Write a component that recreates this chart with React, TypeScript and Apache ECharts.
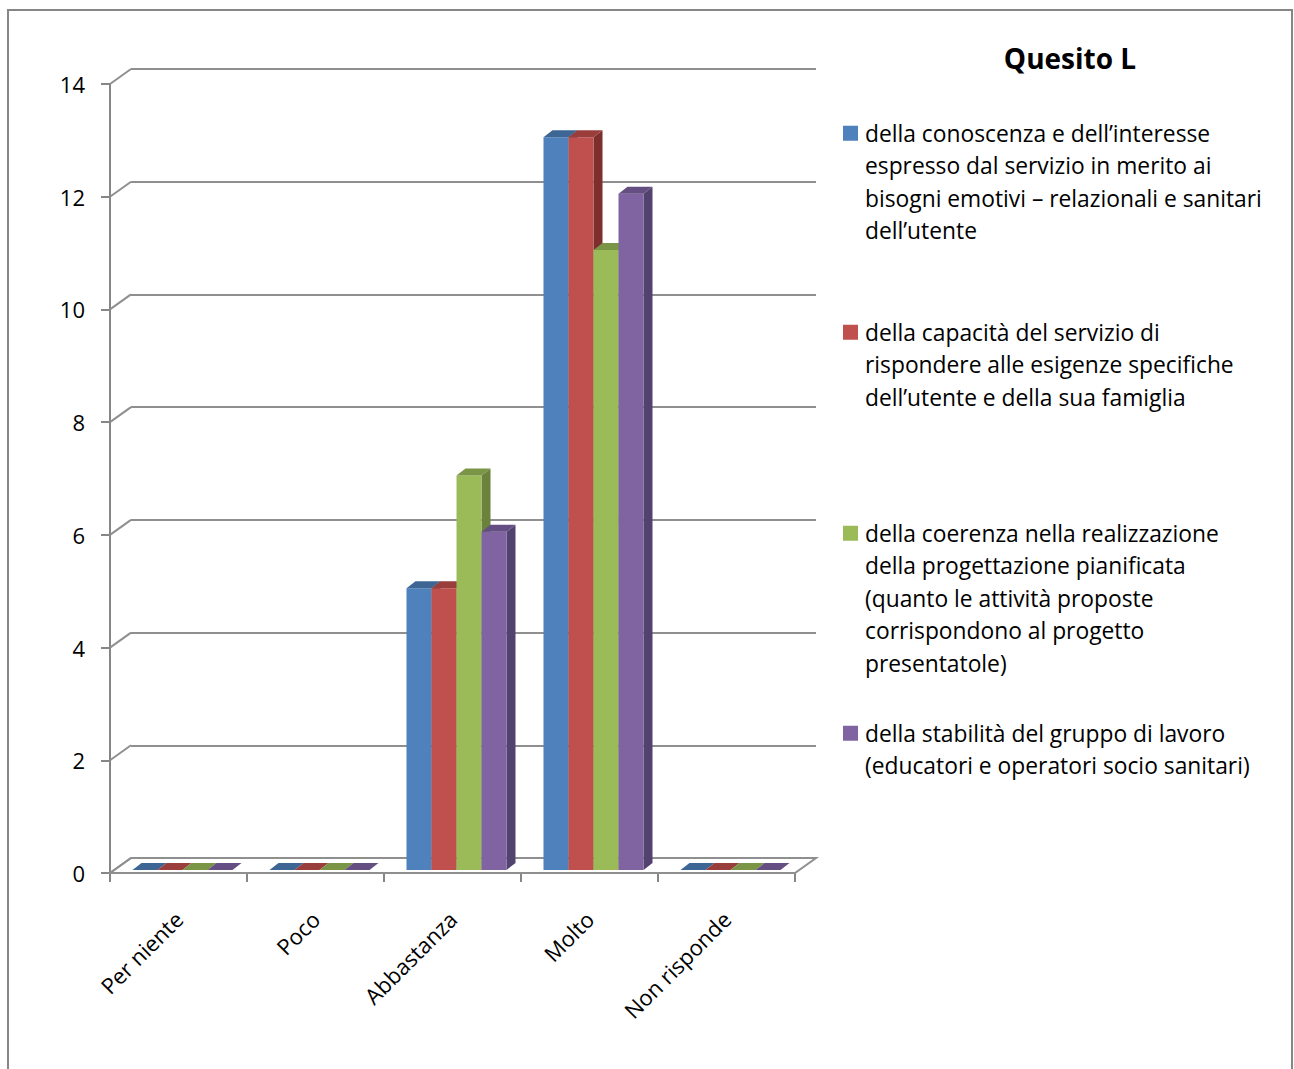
import { useEffect, useRef } from "react";
import * as echarts from "echarts";

// Risposte al quesito L
const categories = ["Per niente", "Poco", "Abbastanza", "Molto", "Non risponde"];

const seriesNames = [
  "della conoscenza e dell’interesse\nespresso dal servizio in merito ai\nbisogni emotivi – relazionali e sanitari\ndell’utente",
  "della capacità del servizio di\nrispondere alle esigenze specifiche\ndell’utente e della sua famiglia",
  "della coerenza nella realizzazione\ndella progettazione pianificata\n(quanto le attività proposte\ncorrispondono al progetto\npresentatole)",
  "della stabilità del gruppo di lavoro\n(educatori e operatori socio sanitari)",
];

const conoscenza = [0, 0, 5, 13, 0];
const capacita = [0, 0, 5, 13, 0];
const coerenza = [0, 0, 7, 11, 0];
const stabilita = [0, 0, 6, 12, 0];

const yTicks = [0, 2, 4, 6, 8, 10, 12, 14];

const seriesValues = [conoscenza, capacita, coerenza, stabilita];

// front / top / side shades of each column
const palette = [
  { front: "#4F81BD", top: "#3D6695", side: "#36597F" },
  { front: "#C0504D", top: "#9A3E3C", side: "#7D2F2D" },
  { front: "#9BBB59", top: "#7A9546", side: "#6A823C" },
  { front: "#8064A2", top: "#654F82", side: "#524270" },
];

const FONT = "'Open Sans', 'Noto Sans', sans-serif";
const AXIS_GRAY = "#868686";
const GRID_GRAY = "#8f8f8f";

// perspective of the chart box and of each column
const DEPTH_X = 21;
const DEPTH_Y = -15;
const BAR_SHIFT_X = 4;
const BAR_SHIFT_Y = -3;
const BAR_DX = 9;
const BAR_DY = -7;
const GROUP_RATIO = 0.73;

const LINE_H = 32.5;
const legendFirstLine = [133, 332, 533, 733];

function barSeries(k: number) {
  const col = palette[k];
  return {
    type: "custom",
    name: seriesNames[k],
    xAxisIndex: 0,
    yAxisIndex: 0,
    z: 4,
    itemStyle: { color: col.front },
    encode: { x: 0, y: 1 },
    data: seriesValues[k].map((v, i) => [i, v]),
    renderItem: (_params: any, api: any) => {
      const i = api.value(0);
      const v = api.value(1);
      const top = api.coord([i, v]);
      const base = api.coord([i, 0]);
      const band = api.size([1, 0])[0];
      const bw = (band * GROUP_RATIO) / 4;
      const x0 = top[0] + BAR_SHIFT_X + (k - 2) * bw;
      const yT = top[1] + BAR_SHIFT_Y;
      const yB = base[1] + BAR_SHIFT_Y;
      return {
        type: "group",
        children: [
          {
            type: "polygon",
            shape: {
              points: [
                [x0 + bw, yT],
                [x0 + bw + BAR_DX, yT + BAR_DY],
                [x0 + bw + BAR_DX, yB + BAR_DY],
                [x0 + bw, yB],
              ],
            },
            style: { fill: col.side },
          },
          {
            type: "rect",
            shape: { x: x0, y: yT, width: bw, height: yB - yT },
            style: { fill: col.front },
          },
          {
            type: "polygon",
            shape: {
              points: [
                [x0, yT],
                [x0 + bw, yT],
                [x0 + bw + BAR_DX, yT + BAR_DY],
                [x0 + BAR_DX, yT + BAR_DY],
              ],
            },
            style: { fill: col.top },
          },
        ],
      };
    },
  };
}

function legendFor(k: number) {
  const lines = seriesNames[k].split("\n").length;
  const h = lines * LINE_H;
  return {
    show: true,
    left: 843,
    top: legendFirstLine[k] - LINE_H / 2,
    padding: 0,
    orient: "vertical",
    itemWidth: 17,
    itemHeight: h,
    selectedMode: false,
    icon: `path://M0,9h15v15h-15z M0,0 M17,${h}`,
    itemStyle: { borderWidth: 0 },
    textStyle: {
      fontFamily: FONT,
      fontSize: 22.8,
      lineHeight: LINE_H,
      color: "#000",
    },
    data: [seriesNames[k]],
  };
}

export default function App() {
  const ref = useRef<HTMLDivElement>(null);

  useEffect(() => {
    if (!ref.current) return;
    const chart = echarts.init(ref.current, null, { renderer: "svg" });

    const option: any = {
      animation: false,
      backgroundColor: "#ffffff",
      title: {
        text: "Quesito L",
        left: 1070,
        textAlign: "center",
        top: 44,
        padding: 0,
        textStyle: {
          fontFamily: FONT,
          fontSize: 28,
          fontWeight: "bold",
          color: "#000",
        },
      },
      legend: [0, 1, 2, 3].map(legendFor),
      grid: [
        { left: 110, top: 84, width: 685, height: 789 },
        { left: 110 + DEPTH_X, top: 84 + DEPTH_Y, width: 685, height: 789 },
      ],
      xAxis: [
        {
          type: "category",
          gridIndex: 0,
          data: categories,
          boundaryGap: true,
          axisLine: { lineStyle: { color: AXIS_GRAY, width: 2 } },
          axisTick: { show: true, length: 9, alignWithLabel: false, lineStyle: { color: AXIS_GRAY, width: 2 } },
          axisLabel: {
            rotate: 45,
            margin: 42,
            fontFamily: FONT,
            fontSize: 22,
            color: "#000",
            interval: 0,
          },
          splitLine: { show: false },
        },
        {
          type: "category",
          gridIndex: 1,
          data: categories,
          show: false,
        },
      ],
      yAxis: [
        {
          type: "value",
          gridIndex: 0,
          min: 0,
          max: 14,
          interval: 2,
          axisLine: { show: true, lineStyle: { color: AXIS_GRAY, width: 2 } },
          axisTick: { show: true, length: 9, lineStyle: { color: AXIS_GRAY, width: 2 } },
          axisLabel: {
            margin: 25,
            fontFamily: FONT,
            fontSize: 22,
            color: "#000",
          },
          splitLine: { show: false },
        },
        {
          type: "value",
          gridIndex: 1,
          min: 0,
          max: 14,
          interval: 2,
          axisLine: { show: false },
          axisTick: { show: false },
          axisLabel: { show: false },
          splitLine: { show: true, lineStyle: { color: GRID_GRAY, width: 2 } },
        },
      ],
      series: [
        {
          // floor of the chart box
          type: "custom",
          name: "pavimento",
          xAxisIndex: 0,
          yAxisIndex: 0,
          z: 2,
          silent: true,
          encode: { x: 0, y: 1 },
          data: [[0, 0]],
          renderItem: (_p: any, api: any) => {
            const a = api.coord([0, 0]);
            const b = api.coord([categories.length - 1, 0]);
            const half = api.size([1, 0])[0] / 2;
            const xl = a[0] - half;
            const xr = b[0] + half;
            const y = a[1];
            return {
              type: "polygon",
              shape: {
                points: [
                  [xl, y],
                  [xr, y],
                  [xr + DEPTH_X, y + DEPTH_Y],
                  [xl + DEPTH_X, y + DEPTH_Y],
                ],
              },
              style: { fill: "#ffffff", stroke: GRID_GRAY, lineWidth: 2 },
            };
          },
        },
        {
          // short diagonal links from the value axis to the back wall
          type: "custom",
          name: "raccordi",
          xAxisIndex: 0,
          yAxisIndex: 0,
          z: 3,
          silent: true,
          encode: { x: 0, y: 1 },
          data: yTicks.map((v) => [0, v]),
          renderItem: (_p: any, api: any) => {
            const p = api.coord([0, api.value(1)]);
            const x = p[0] - api.size([1, 0])[0] / 2;
            return {
              type: "line",
              shape: { x1: x, y1: p[1], x2: x + DEPTH_X, y2: p[1] + DEPTH_Y },
              style: { stroke: GRID_GRAY, lineWidth: 2 },
            };
          },
        },
        ...[0, 1, 2, 3].map(barSeries),
      ],
      graphic: [
        {
          type: "rect",
          silent: true,
          z: 100,
          shape: { x: 8, y: 10, width: 1284, height: 1090 },
          style: { fill: "none", stroke: AXIS_GRAY, lineWidth: 2 },
        },
      ],
    };

    chart.setOption(option);
    return () => chart.dispose();
  }, []);

  return (
    <div
      ref={ref}
      style={{ position: "absolute", left: 0, top: 0, width: 1294, height: 1069, background: "#fff" }}
    />
  );
}
